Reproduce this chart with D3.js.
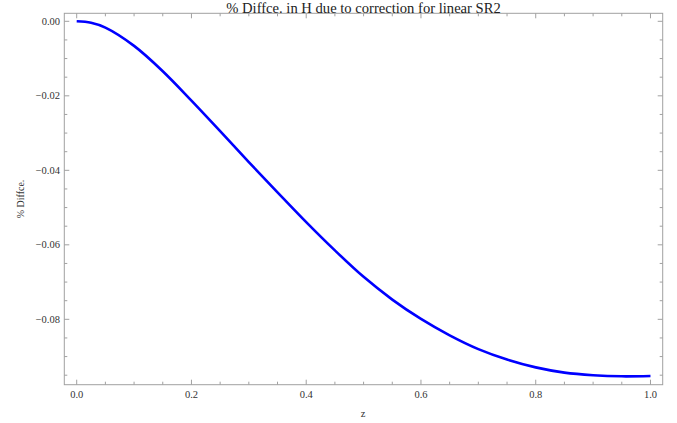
<!DOCTYPE html>
<html>
<head>
<meta charset="utf-8">
<script src="https://cdn.jsdelivr.net/npm/d3@7"></script>
<style>
  html, body { margin: 0; padding: 0; background: #fff; }
  svg { display: block; }
  text { font-family: "Liberation Serif", "DejaVu Serif", serif; }
</style>
</head>
<body>
<svg id="chart" width="677" height="423"></svg>
<script>
// Data
const zValues = [0.000, 0.025, 0.05, 0.10, 0.15, 0.20, 0.25, 0.30, 0.35, 0.40, 0.45, 0.50,
                 0.55, 0.60, 0.65, 0.70, 0.75, 0.80, 0.85, 0.90, 0.95, 1.00];
const diffValues = [0.0000, -0.0004, -0.0017, -0.0066, -0.0134, -0.0213, -0.0295, -0.0378, -0.0459, -0.0539, -0.0615, -0.0686,
                    -0.0747, -0.0799, -0.0843, -0.0880, -0.0908, -0.0929, -0.0943, -0.0950, -0.0953, -0.0952];
const xTickValues = [0.0, 0.2, 0.4, 0.6, 0.8, 1.0];
const xTickLabels = ["0.0", "0.2", "0.4", "0.6", "0.8", "1.0"];
const yTickValues = [0.00, -0.02, -0.04, -0.06, -0.08];
const yTickLabels = ["0.00", "\u22120.02", "\u22120.04", "\u22120.06", "\u22120.08"];
const titleText = "% Diffce. in H due to correction for linear SR2";
const xLabelText = "z";
const yLabelText = "% Diffce.";

const svg = d3.select("#chart");
const L = 64.3, R = 662.7, T = 13.3, B = 384.7;

const x = d3.scaleLinear().domain([-0.0216, 1.0213]).range([L, R]);
const y = d3.scaleLinear().domain([-0.09755, 0.00215]).range([B, T]);

const frameColor = "#a0a0a0";
const labelColor = "#333";

// minor tick values
const xMinor = d3.range(0, 1.0001, 0.05).filter(v => !xTickValues.some(t => Math.abs(t - v) < 1e-9));
const yMinor = d3.range(0, -0.0951, -0.005).filter(v => !yTickValues.some(t => Math.abs(t - v) < 1e-9));

const g = svg.append("g");

// frame
g.append("rect")
  .attr("x", L).attr("y", T)
  .attr("width", R - L).attr("height", B - T)
  .attr("fill", "none").attr("stroke", frameColor).attr("stroke-width", 1);

const major = 5, minor = 3;
function tickLines(vals, len, scale, orient) {
  vals.forEach(v => {
    if (orient === "bottom" || orient === "top") {
      const px = scale(v);
      const y0 = orient === "bottom" ? B : T;
      const dir = orient === "bottom" ? -1 : 1;
      g.append("line").attr("x1", px).attr("x2", px)
        .attr("y1", y0).attr("y2", y0 + dir * len)
        .attr("stroke", frameColor).attr("stroke-width", 1);
    } else {
      const py = scale(v);
      const x0 = orient === "left" ? L : R;
      const dir = orient === "left" ? 1 : -1;
      g.append("line").attr("y1", py).attr("y2", py)
        .attr("x1", x0).attr("x2", x0 + dir * len)
        .attr("stroke", frameColor).attr("stroke-width", 1);
    }
  });
}
["bottom", "top"].forEach(o => { tickLines(xTickValues, major, x, o); tickLines(xMinor, minor, x, o); });
["left", "right"].forEach(o => { tickLines(yTickValues, major, y, o); tickLines(yMinor, minor, y, o); });

// tick labels
g.selectAll(".xl").data(xTickValues).enter().append("text")
  .attr("x", d => x(d)).attr("y", 398)
  .attr("text-anchor", "middle").attr("font-size", 10.5).attr("fill", labelColor)
  .text((d, i) => xTickLabels[i]);

g.selectAll(".yl").data(yTickValues).enter().append("text")
  .attr("x", 60).attr("y", d => y(d) + 3.5)
  .attr("text-anchor", "end").attr("font-size", 10.5).attr("fill", labelColor)
  .text((d, i) => yTickLabels[i]);

// curve
const pts = zValues.map((z, i) => [z, diffValues[i]]);
const line = d3.line().x(d => x(d[0])).y(d => y(d[1])).curve(d3.curveCatmullRom.alpha(0.5));
g.append("path").datum(pts)
  .attr("d", line)
  .attr("fill", "none").attr("stroke", "#0000ff").attr("stroke-width", 2.6)
  .attr("stroke-linejoin", "round").attr("stroke-linecap", "butt");

// title
svg.append("text")
  .attr("x", (L + R) / 2).attr("y", 12.8)
  .attr("text-anchor", "middle").attr("font-size", 14.6).attr("fill", "#222")
  .text(titleText);

// axis labels
svg.append("text")
  .attr("x", 363).attr("y", 417)
  .attr("text-anchor", "middle").attr("font-size", 10.5).attr("fill", labelColor)
  .text(xLabelText);

svg.append("text")
  .attr("transform", `translate(23.5, ${(T + B) / 2}) rotate(-90)`)
  .attr("text-anchor", "middle").attr("font-size", 10).attr("fill", labelColor)
  .text(yLabelText);
</script>
</body>
</html>
